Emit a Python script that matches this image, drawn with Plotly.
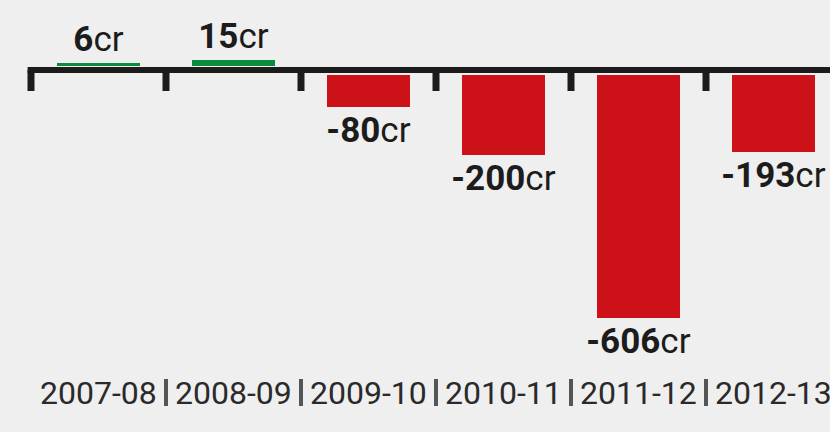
import plotly.graph_objects as go

categories = ["2007-08", "2008-09", "2009-10", "2010-11", "2011-12", "2012-13"]
values = [6, 15, -80, -200, -606, -193]

GREEN = "#0a8a3c"
RED = "#cc1118"
INK = "#1c1c1c"
BG = "#efefef"
FONT = "Roboto, Liberation Sans, sans-serif"

W, H = 830, 432
M_T, M_B = 0, 62
plot_h = H - M_T - M_B
y_range = [-748.0, 174.6]
px_per_unit = plot_h / (y_range[1] - y_range[0])
gap_units = 4.5 / px_per_unit  # bars start at the edge of the thick axis line

n = len(categories)
x_idx = list(range(n))
x_range = [-0.7296, 5.4185]

colors = [GREEN if v >= 0 else RED for v in values]
bases = [gap_units if v >= 0 else -gap_units for v in values]
labels = [f"<b>{v}</b>cr" for v in values]

fig = go.Figure()
fig.add_trace(go.Bar(
    x=x_idx, y=values, base=bases, width=0.61,
    marker=dict(color=colors, line=dict(width=0)),
    text=labels, textposition="outside", constraintext="none",
    cliponaxis=False,
    textfont=dict(family=FONT, size=35, color=INK),
    hoverinfo="skip",
))

shapes = [dict(type="line", xref="x", yref="y", x0=-0.5 - 0.025, x1=x_range[1],
               y0=0, y1=0, line=dict(color=INK, width=6), layer="above")]
for i in range(n + 1):
    b = i - 0.5
    shapes.append(dict(type="line", xref="x", yref="y", ysizemode="pixel", yanchor=0,
                       x0=b, x1=b, y0=0, y1=-21,
                       line=dict(color=INK, width=7), layer="above"))
# separators between the period labels
for i in range(n - 1):
    b = i + 0.5
    shapes.append(dict(type="line", xref="x", yref="paper", ysizemode="pixel", yanchor=0,
                       x0=b, x1=b, y0=-9, y1=-36,
                       line=dict(color="#555555", width=4), layer="above"))

annotations = []
for i, c in enumerate(categories):
    annotations.append(dict(x=i, xref="x", y=0, yref="paper", yanchor="middle",
                            yshift=-23, text=c, showarrow=False,
                            font=dict(family=FONT, size=32, color="#2a2a2a")))

fig.update_layout(
    width=W, height=H,
    margin=dict(l=0, r=0, t=M_T, b=M_B, pad=0),
    paper_bgcolor=BG, plot_bgcolor=BG,
    showlegend=False,
    shapes=shapes, annotations=annotations,
    bargap=0,
    xaxis=dict(range=x_range, showticklabels=False, ticks="",
               showline=False, showgrid=False, zeroline=False,
               automargin=False, fixedrange=True),
    yaxis=dict(range=y_range, visible=False, showgrid=False, zeroline=False,
               automargin=False, fixedrange=True),
)

fig.write_html("out.html", config={"displayModeBar": False},
               post_script="document.body.style.margin='0';document.body.style.background='#efefef';")
